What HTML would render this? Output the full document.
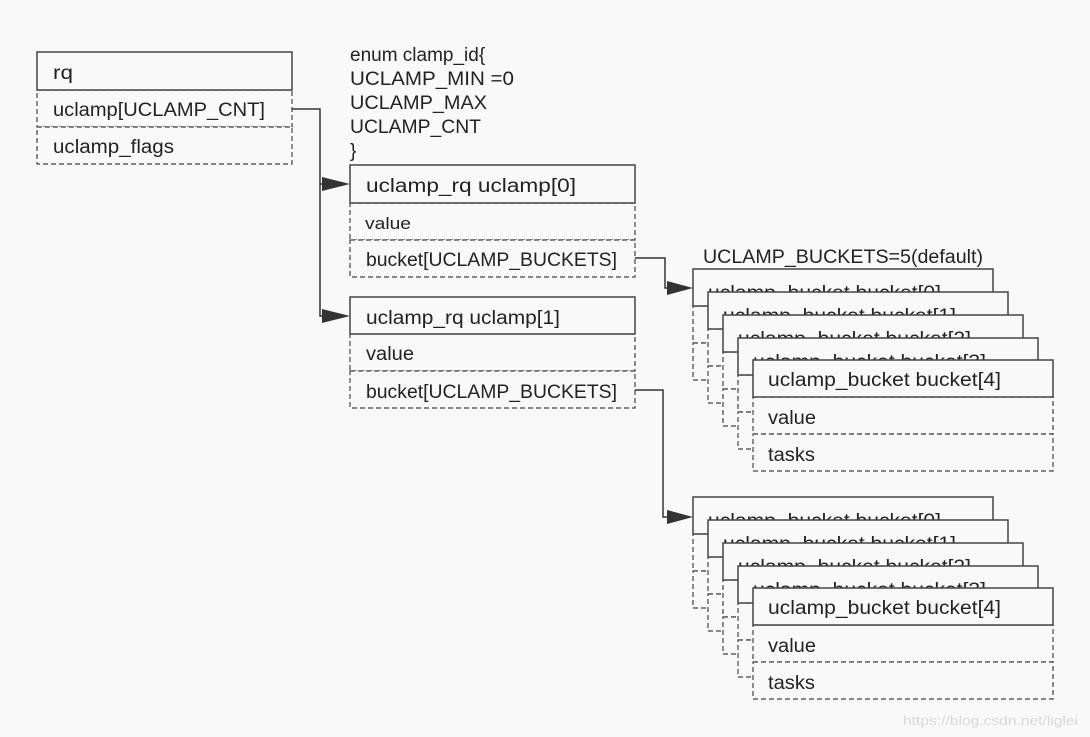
<!DOCTYPE html>
<html><head><meta charset="utf-8"><style>
html,body{margin:0;padding:0;background:#f9f9f9;}
svg{display:block;}
text{font-family:"Liberation Sans","Noto Sans CJK SC",sans-serif;font-size:19px;fill:#222;}
.s{fill:#f9f9f9;stroke:#444;stroke-width:1.5;}
.d{fill:#f9f9f9;stroke:#444;stroke-width:1.2;stroke-dasharray:5 3;}
.l{fill:none;stroke:#333;stroke-width:1.5;}
</style></head><body>
<svg width="1090" height="737" viewBox="0 0 1090 737" xmlns="http://www.w3.org/2000/svg">
<rect class="d" x="37" y="90" width="255" height="37"/>
<rect class="d" x="37" y="127" width="255" height="37"/>
<rect class="s" x="37" y="52" width="255" height="38"/>
<text x="53" y="79" textLength="20" lengthAdjust="spacingAndGlyphs">rq</text>
<text x="53" y="116" textLength="212" lengthAdjust="spacingAndGlyphs">uclamp[UCLAMP_CNT]</text>
<text x="53" y="153" textLength="121" lengthAdjust="spacingAndGlyphs">uclamp_flags</text>
<text x="350" y="61">enum clamp_id{</text>
<text x="350" y="85" textLength="164" lengthAdjust="spacingAndGlyphs">UCLAMP_MIN =0</text>
<text x="350" y="109" textLength="137" lengthAdjust="spacingAndGlyphs">UCLAMP_MAX</text>
<text x="350" y="133" textLength="131" lengthAdjust="spacingAndGlyphs">UCLAMP_CNT</text>
<text x="350" y="157">}</text>
<path class="l" d="M292 109 H320 V316 H336 M320 184 H336"/>
<polygon points="322,177 350,184 322,191" fill="#333"/>
<polygon points="322,309 350,316 322,323" fill="#333"/>
<rect class="d" x="350" y="203" width="285" height="37"/>
<rect class="d" x="350" y="240" width="285" height="37"/>
<rect class="s" x="350" y="165" width="285" height="38"/>
<text x="366" y="192" textLength="210" lengthAdjust="spacingAndGlyphs">uclamp_rq uclamp[0]</text>
<text x="365" y="229" style="font-size:17px" textLength="46" lengthAdjust="spacingAndGlyphs">value</text>
<text x="366" y="266" textLength="251" lengthAdjust="spacingAndGlyphs">bucket[UCLAMP_BUCKETS]</text>
<rect class="d" x="350" y="334" width="285" height="37"/>
<rect class="d" x="350" y="371" width="285" height="37"/>
<rect class="s" x="350" y="297" width="285" height="37"/>
<text x="366" y="324" textLength="194" lengthAdjust="spacingAndGlyphs">uclamp_rq uclamp[1]</text>
<text x="366" y="360" textLength="48" lengthAdjust="spacingAndGlyphs">value</text>
<text x="366" y="398" textLength="251" lengthAdjust="spacingAndGlyphs">bucket[UCLAMP_BUCKETS]</text>
<path class="l" d="M635 258 H665 V288 H680 M635 390 H663 V517 H680"/>
<polygon points="667,281 693,288 667,295" fill="#333"/>
<polygon points="667,510 693,517 667,524" fill="#333"/>
<text x="703" y="263" textLength="280" lengthAdjust="spacingAndGlyphs">UCLAMP_BUCKETS=5(default)</text>
<g transform="translate(693,269)"><rect class="d" x="0" y="37" width="300" height="37"/><rect class="d" x="0" y="74" width="300" height="37"/><rect class="s" x="0" y="0" width="300" height="37"/><text x="15" y="30" textLength="233" lengthAdjust="spacingAndGlyphs">uclamp_bucket bucket[0]</text></g>
<g transform="translate(708,292)"><rect class="d" x="0" y="37" width="300" height="37"/><rect class="d" x="0" y="74" width="300" height="37"/><rect class="s" x="0" y="0" width="300" height="37"/><text x="15" y="30" textLength="233" lengthAdjust="spacingAndGlyphs">uclamp_bucket bucket[1]</text></g>
<g transform="translate(723,315)"><rect class="d" x="0" y="37" width="300" height="37"/><rect class="d" x="0" y="74" width="300" height="37"/><rect class="s" x="0" y="0" width="300" height="37"/><text x="15" y="30" textLength="233" lengthAdjust="spacingAndGlyphs">uclamp_bucket bucket[2]</text></g>
<g transform="translate(738,338)"><rect class="d" x="0" y="37" width="300" height="37"/><rect class="d" x="0" y="74" width="300" height="37"/><rect class="s" x="0" y="0" width="300" height="37"/><text x="15" y="30" textLength="233" lengthAdjust="spacingAndGlyphs">uclamp_bucket bucket[3]</text></g>
<g transform="translate(753,360)"><rect class="d" x="0" y="37" width="300" height="37"/><rect class="d" x="0" y="74" width="300" height="37"/><rect class="s" x="0" y="0" width="300" height="37"/><text x="15" y="26" textLength="233" lengthAdjust="spacingAndGlyphs">uclamp_bucket bucket[4]</text><text x="15" y="64" textLength="48" lengthAdjust="spacingAndGlyphs">value</text><text x="15" y="101" textLength="47" lengthAdjust="spacingAndGlyphs">tasks</text></g>
<g transform="translate(693,497)"><rect class="d" x="0" y="37" width="300" height="37"/><rect class="d" x="0" y="74" width="300" height="37"/><rect class="s" x="0" y="0" width="300" height="37"/><text x="15" y="30" textLength="233" lengthAdjust="spacingAndGlyphs">uclamp_bucket bucket[0]</text></g>
<g transform="translate(708,520)"><rect class="d" x="0" y="37" width="300" height="37"/><rect class="d" x="0" y="74" width="300" height="37"/><rect class="s" x="0" y="0" width="300" height="37"/><text x="15" y="30" textLength="233" lengthAdjust="spacingAndGlyphs">uclamp_bucket bucket[1]</text></g>
<g transform="translate(723,543)"><rect class="d" x="0" y="37" width="300" height="37"/><rect class="d" x="0" y="74" width="300" height="37"/><rect class="s" x="0" y="0" width="300" height="37"/><text x="15" y="30" textLength="233" lengthAdjust="spacingAndGlyphs">uclamp_bucket bucket[2]</text></g>
<g transform="translate(738,566)"><rect class="d" x="0" y="37" width="300" height="37"/><rect class="d" x="0" y="74" width="300" height="37"/><rect class="s" x="0" y="0" width="300" height="37"/><text x="15" y="30" textLength="233" lengthAdjust="spacingAndGlyphs">uclamp_bucket bucket[3]</text></g>
<g transform="translate(753,588)"><rect class="d" x="0" y="37" width="300" height="37"/><rect class="d" x="0" y="74" width="300" height="37"/><rect class="s" x="0" y="0" width="300" height="37"/><text x="15" y="26" textLength="233" lengthAdjust="spacingAndGlyphs">uclamp_bucket bucket[4]</text><text x="15" y="64" textLength="48" lengthAdjust="spacingAndGlyphs">value</text><text x="15" y="101" textLength="47" lengthAdjust="spacingAndGlyphs">tasks</text></g>
<text x="903" y="725" style="font-size:13px;fill:#d8d8d8" textLength="175" lengthAdjust="spacingAndGlyphs">https://blog.csdn.net/liglei</text>
</svg>
</body></html>
